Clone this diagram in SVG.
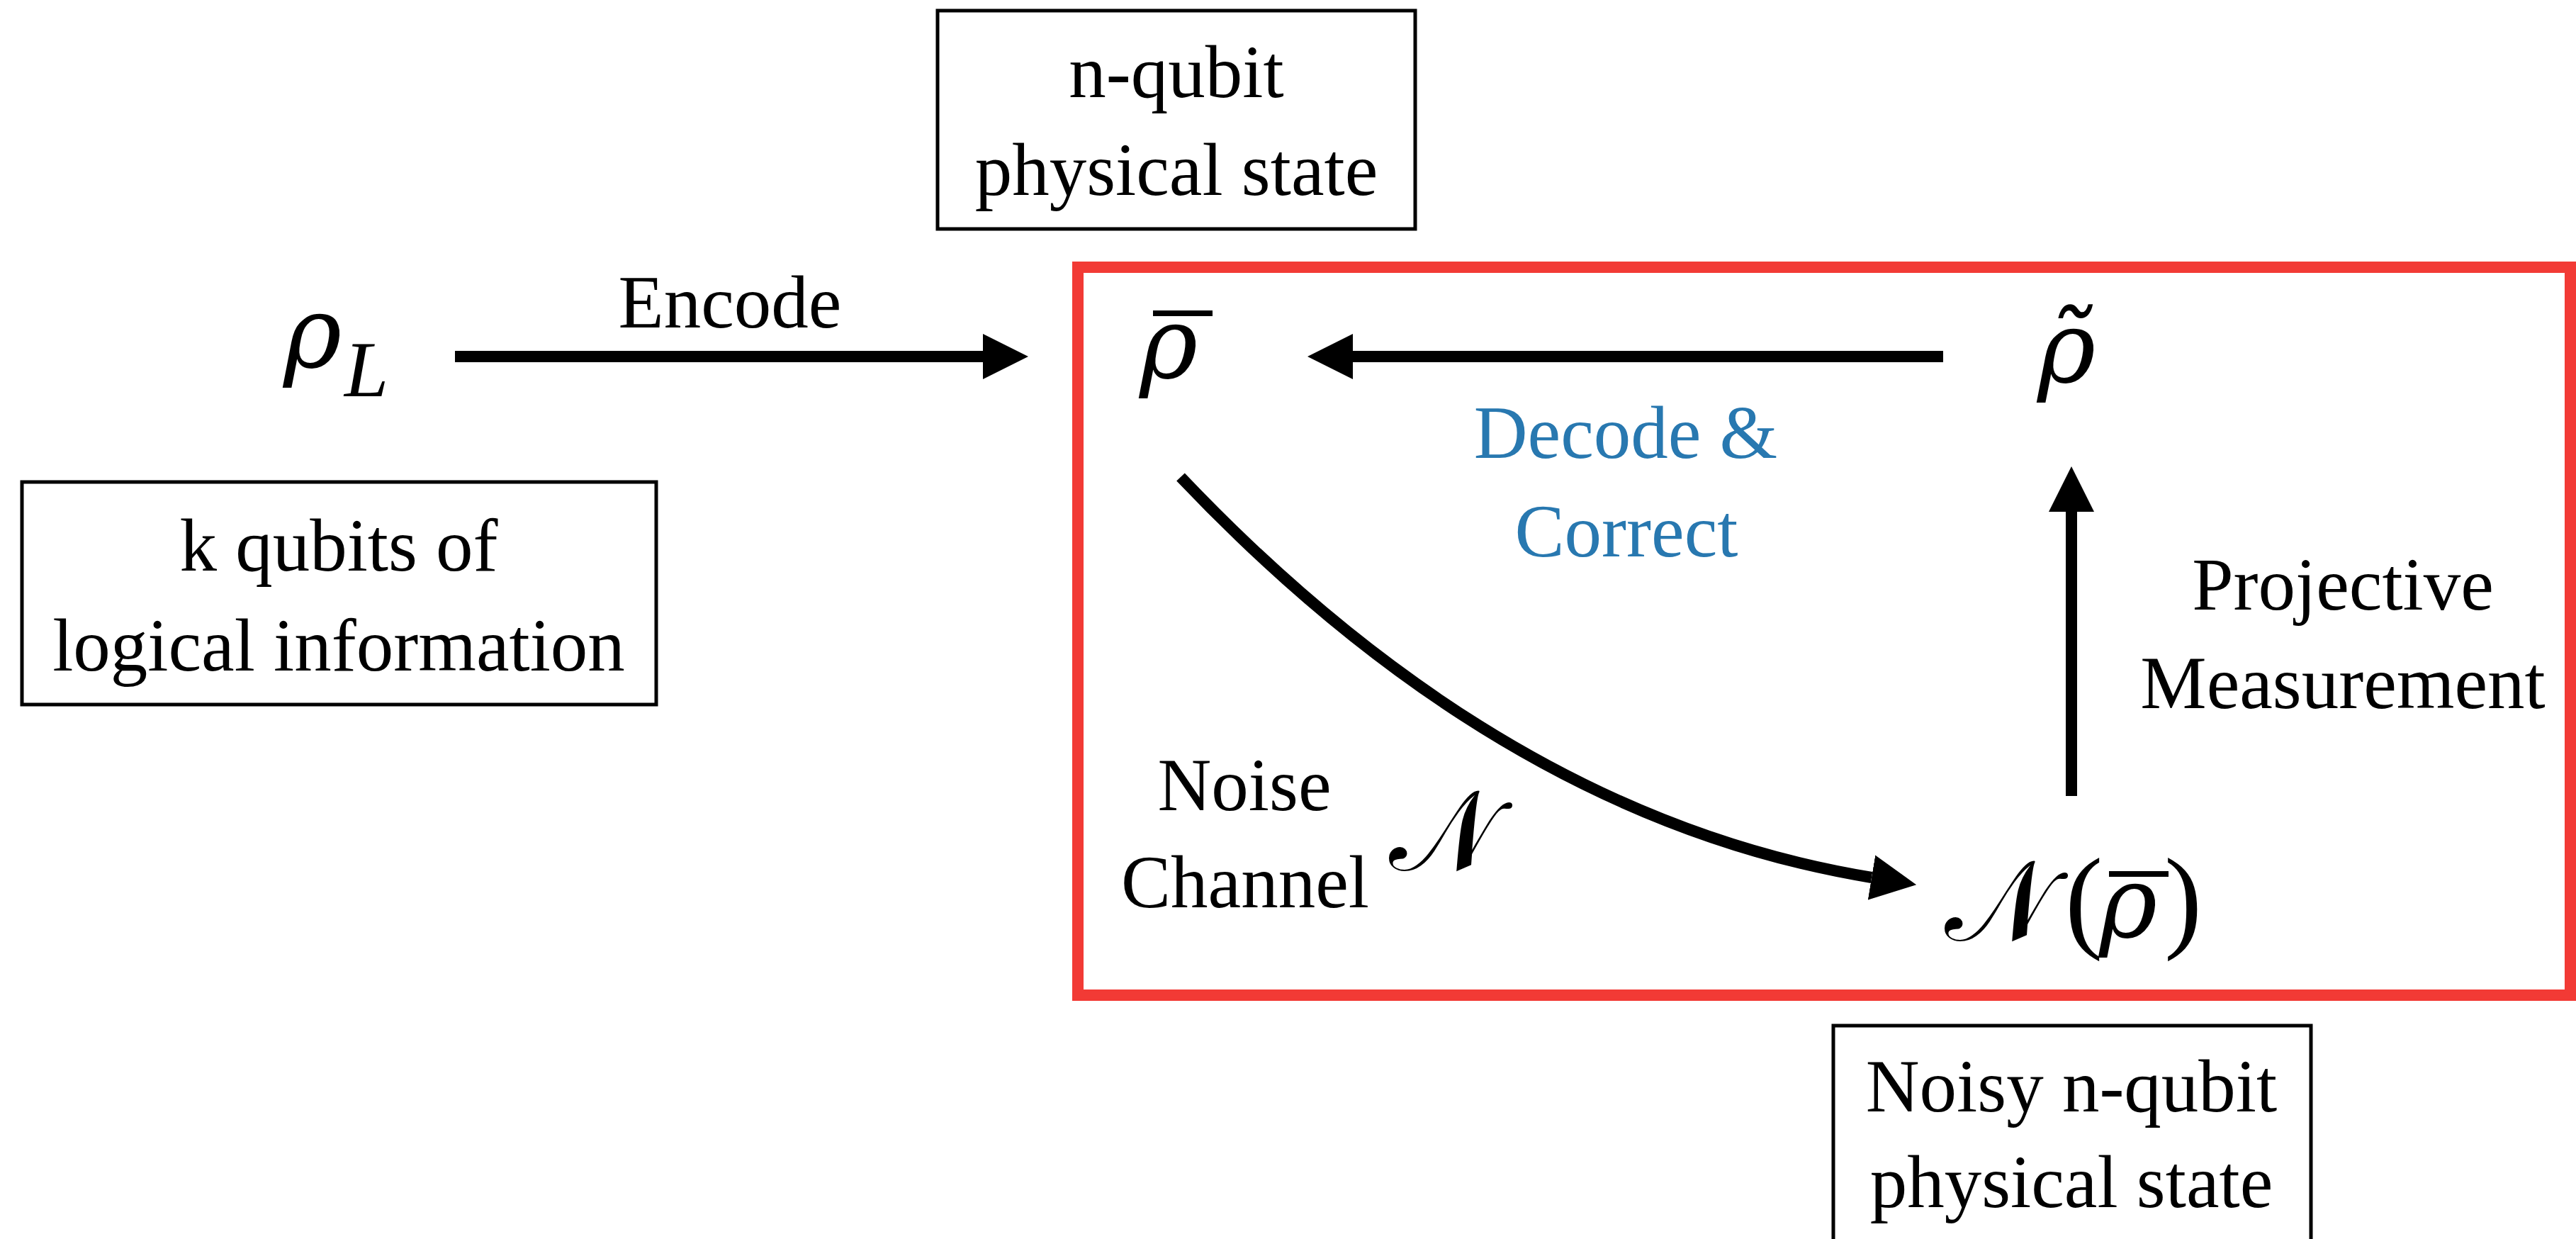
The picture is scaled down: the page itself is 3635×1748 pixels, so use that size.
<svg xmlns="http://www.w3.org/2000/svg" width="3635" height="1748" viewBox="0 0 3635 1748">
  <style>
    .t { font-family: "Liberation Serif", "DejaVu Serif", serif; font-size: 105px; fill: #000; text-anchor: middle; }
    .blue { fill: #2878b0; }
    .m { font-family: "DejaVu Serif", "Liberation Serif", serif; font-style: italic; fill: #000; font-size: 140px; }
    .cal { font-family: "DejaVu Serif", "Liberation Serif", serif; font-style: normal; fill: #000; font-size: 160px; }
    .sub { font-family: "Liberation Serif", serif; font-style: italic; fill: #000; font-size: 112px; }
    .par { font-family: "Liberation Serif", serif; fill: #000; font-size: 160px; }
    .box { fill: none; stroke: #000; stroke-width: 5; }
    .conn { fill: none; stroke: #000; stroke-width: 16; }
    .bar { stroke: #000; stroke-width: 8; }
  </style>
  <defs>
    <marker id="ah" markerUnits="userSpaceOnUse" markerWidth="64" markerHeight="64" viewBox="0 0 63 63" refX="0" refY="31.5" orient="auto">
      <path d="M0,0 L63,31.5 L0,63 Z" fill="#000"/>
    </marker>
  </defs>
  <rect width="3635" height="1748" fill="#fff"/>

  <g id="loop-frame">
    <rect x="1521" y="377" width="2106" height="1027" fill="none" stroke="#f23a35" stroke-width="16"/>
  </g>

  <g id="connectors">
    <line class="conn" x1="642" y1="503" x2="1387" y2="503" marker-end="url(#ah)"/>
    <line class="conn" x1="2742" y1="503" x2="1909" y2="503" marker-end="url(#ah)"/>
    <line class="conn" x1="2923" y1="1123" x2="2923" y2="722" marker-end="url(#ah)"/>
    <path class="conn" d="M1666,673 Q2122,1153 2641,1238" marker-end="url(#ah)"/>
  </g>

  <g id="label-encode"><text class="t" x="1030" y="462">Encode</text></g>
  <g id="label-decode">
    <text class="t blue" x="2294" y="646">Decode &amp;</text>
    <text class="t blue" x="2295" y="785">Correct</text>
  </g>
  <g id="label-projective">
    <text class="t" x="3306" y="860">Projective</text>
    <text class="t" x="3306" y="999">Measurement</text>
  </g>
  <g id="label-noise">
    <text class="t" x="1756" y="1143">Noise</text>
    <text class="t" x="1757" y="1280">Channel</text>
    <text class="cal" x="1960" y="1228">𝒩</text>
  </g>

  <g id="node-rhoL">
    <text class="m" x="400" y="518">ρ</text>
    <text class="sub" x="486" y="559">L</text>
  </g>
  <g id="node-rhobar">
    <text class="m" x="1608" y="533">ρ</text>
    <line class="bar" x1="1627" y1="442" x2="1711" y2="442"/>
  </g>
  <g id="node-rhotilde">
    <text class="m" x="2875" y="539">ρ̃</text>
  </g>
  <g id="node-noisy">
    <text class="cal" x="2744" y="1327">𝒩</text>
    <text class="par" x="2914" y="1322">(</text>
    <text class="m" x="2962" y="1322">ρ</text>
    <line class="bar" x1="2976" y1="1233" x2="3060" y2="1233"/>
    <text class="par" x="3054" y="1322">)</text>
  </g>

  <g id="box-nqubit">
    <rect class="box" x="1323" y="15" width="674" height="308"/>
    <text class="t" x="1660" y="137">n-qubit</text>
    <text class="t" x="1660" y="275">physical state</text>
  </g>
  <g id="box-kqubits">
    <rect class="box" x="31" y="680" width="895" height="314"/>
    <text class="t" x="478" y="805">k qubits of</text>
    <text class="t" x="478" y="946">logical information</text>
  </g>
  <g id="box-noisy">
    <rect class="box" x="2587" y="1447" width="674" height="320"/>
    <text class="t" x="2923" y="1568">Noisy n-qubit</text>
    <text class="t" x="2923" y="1703">physical state</text>
  </g>
</svg>
